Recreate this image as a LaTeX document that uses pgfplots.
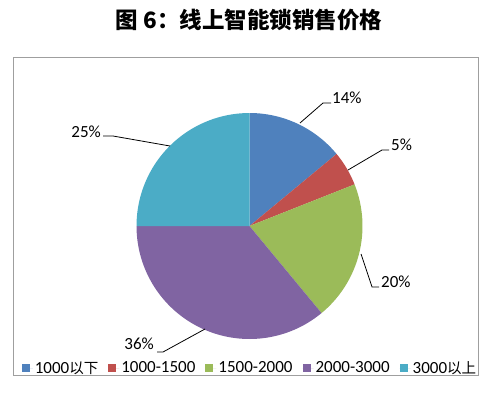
\documentclass[border=0pt]{standalone}
\usepackage{pgfplots}
\pgfplotsset{compat=1.18}
\usepackage{fontspec}
\setmainfont{Carlito}
\newfontfamily\cjk{Noto Sans CJK SC}
\newcommand{\cj}[1]{{\cjk\fontsize{14.5bp}{17bp}\selectfont #1}}
\definecolor{c1}{HTML}{4F81BD}
\definecolor{c2}{HTML}{C0504D}
\definecolor{c3}{HTML}{9BBB59}
\definecolor{c4}{HTML}{8064A2}
\definecolor{c5}{HTML}{4BACC6}
\begin{document}
\begin{tikzpicture}
\begin{axis}[
  x=1bp, y=1bp,
  xmin=13, xmax=478, ymin=20, ymax=338,
  axis lines=box, ticks=none,
  axis line style={draw=gray!75, line width=0.8bp},
  clip=false,
  legend columns=5,
  legend style={at={(axis cs:250,27)}, anchor=center, draw=none, fill=none,
    font=\fontsize{17bp}{19bp}\selectfont, inner sep=0pt,
    /tikz/every even column/.append style={column sep=8bp},
    /tikz/every odd column/.append style={column sep=0bp}},
  legend image code/.code={\fill[#1] (0bp,-4bp) rectangle (8bp,4bp); \path (0bp,0bp) -- (11bp,0bp);},
  every axis plot/.append style={draw=none},
]
% percentages: 14, 5, 20, 36, 25 ; start at 90 deg, clockwise
\pgfmathsetmacro{\aA}{90}
\pgfmathsetmacro{\aB}{\aA-3.6*14}
\pgfmathsetmacro{\aC}{\aB-3.6*5}
\pgfmathsetmacro{\aD}{\aC-3.6*20}
\pgfmathsetmacro{\aE}{\aD-3.6*36}
\pgfmathsetmacro{\aF}{\aE-3.6*25}
\addplot[fill=c1, domain=\aA:\aB, samples=40] ({249.5+113*cos(x)},{169+113*sin(x)}) -- (axis cs:249.5,169) -- cycle;
\addlegendentry{1000\cj{以下}}
\addplot[fill=c2, domain=\aB:\aC, samples=20] ({249.5+113*cos(x)},{169+113*sin(x)}) -- (axis cs:249.5,169) -- cycle;
\addlegendentry{1000-1500}
\addplot[fill=c3, domain=\aC:\aD, samples=50] ({249.5+113*cos(x)},{169+113*sin(x)}) -- (axis cs:249.5,169) -- cycle;
\addlegendentry{1500-2000}
\addplot[fill=c4, domain=\aD:\aE, samples=80] ({249.5+113*cos(x)},{169+113*sin(x)}) -- (axis cs:249.5,169) -- cycle;
\addlegendentry{2000-3000}
\addplot[fill=c5, domain=\aE:\aF, samples=60] ({249.5+113*cos(x)},{169+113*sin(x)}) -- (axis cs:249.5,169) -- cycle;
\addlegendentry{3000\cj{以上}}
% leader lines
\addplot[draw=black, line width=0.8bp, forget plot] coordinates {(300,272) (323,292) (331,292)};
\addplot[draw=black, line width=0.8bp, forget plot] coordinates {(348,225) (382,245) (389,245)};
\addplot[draw=black, line width=0.8bp, forget plot] coordinates {(361,141) (372,108) (379,108)};
\addplot[draw=black, line width=0.8bp, forget plot] coordinates {(170,249) (113,259) (103,259)};
\addplot[draw=black, line width=0.8bp, forget plot] coordinates {(205,66) (163,43) (157,43)};
\begin{scope}[every node/.style={font=\fontsize{17bp}{19bp}\selectfont, inner sep=0pt}]
\node[anchor=west] at (axis cs:332,297) {14\%};
\node[anchor=west] at (axis cs:391,250) {5\%};
\node[anchor=west] at (axis cs:381,113) {20\%};
\node[anchor=east] at (axis cs:101,263) {25\%};
\node[anchor=east] at (axis cs:154,51) {36\%};
\end{scope}
\node[font=\cjk\bfseries\fontsize{22.5bp}{25bp}\selectfont, inner sep=0pt] at (axis cs:249,375) {图 6：线上智能锁销售价格};
\path (axis cs:0,0) rectangle (axis cs:500,395);
\end{axis}
\end{tikzpicture}
\end{document}
